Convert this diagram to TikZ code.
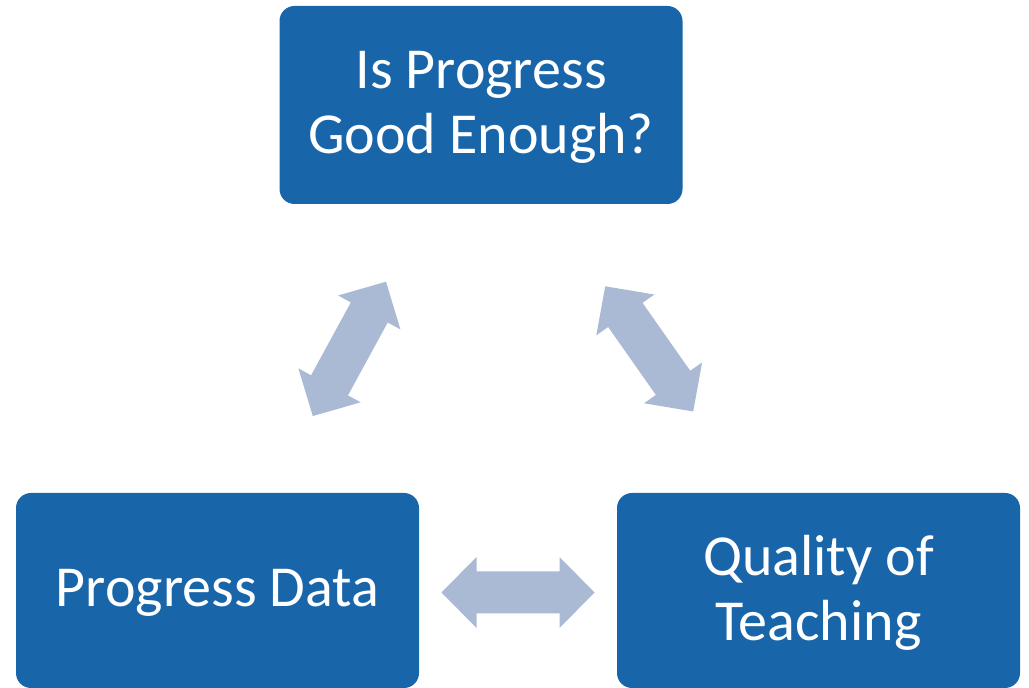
\documentclass[tikz,border=0pt]{standalone}
\usepackage{fontspec}
\setmainfont{Carlito}
\definecolor{boxblue}{HTML}{1865A9}
\definecolor{arrowgray}{HTML}{AAB9D4}
\tikzset{
  stagebox/.style={fill=boxblue, rounded corners=15pt, minimum width=403pt, inner sep=0pt},
  stagetext/.style={text=white, align=center, inner sep=0pt, font=\fontsize{58}{65}\selectfont},
  dblarrow/.pic={
    \fill[arrowgray] (-76.5,0) -- (-41.5,35.5) -- (-41.5,21) -- (41.5,21) -- (41.5,35.5)
      -- (76.5,0) -- (41.5,-35.5) -- (41.5,-21) -- (-41.5,-21) -- (-41.5,-35.5) -- cycle;
  }
}
\begin{document}
\begin{tikzpicture}[x=1pt,y=1pt]
\useasboundingbox (0,0) rectangle (1029,688);
\node[stagebox, minimum height=198pt] (top) at (481,583) {};
\node[stagebox, minimum height=195pt] (data) at (217.5,97.5) {};
\node[stagebox, minimum height=195pt] (teach) at (818.5,97.5) {};
\node[stagetext] (topt) at ([yshift=-2pt]top.center) {Is Progress\\Good Enough?};
\node[stagetext] (datat) at ([yshift=-2pt]data.center) {Progress Data};
\node[stagetext] (teacht) at ([yshift=-2pt]teach.center) {Quality of\\Teaching};
\coordinate (aL) at (349.4,339.1);
\coordinate (aR) at (649.2,339.1);
\coordinate (aB) at (518,95.5);
\pic[rotate=61.4] at (aL) {dblarrow};
\pic[rotate=-54.9] at (aR) {dblarrow};
\pic at (aB) {dblarrow};
\end{tikzpicture}
\end{document}
